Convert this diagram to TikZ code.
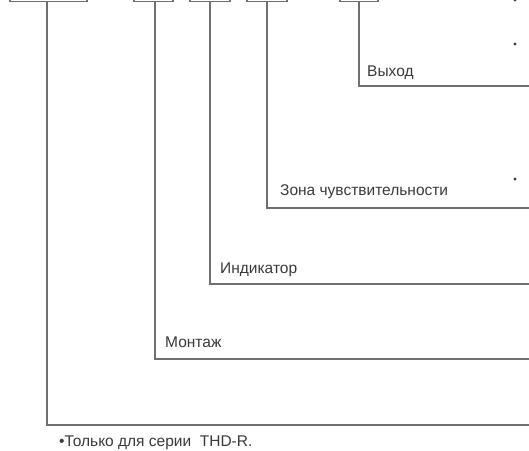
\documentclass[tikz,border=0pt]{standalone}
\usepackage{fontspec}
\setmainfont{Liberation Sans}
\definecolor{linegray}{HTML}{707070}
\definecolor{textgray}{HTML}{3A3A3A}

\begin{document}
\begin{tikzpicture}[x=1pt,y=-1pt,
	codebox/.style={draw=linegray,line width=1.5pt,minimum height=20pt,inner sep=0pt},
	leader/.style={draw=linegray,line width=1.5pt},
	caption/.style={text=textgray,font=\fontsize{15.5}{17}\selectfont,anchor=base west,inner sep=0pt},
	dotmark/.style={circle,fill=textgray,inner sep=0pt,minimum size=3.2pt}]
	\useasboundingbox (0,0) rectangle (529,450);
	\clip (0,0) rectangle (529,450);

	% The boxes of the code, cut off at the top
	\node[codebox,minimum width=77pt,anchor=south] (series) at (48.5,2) {};
	\node[codebox,minimum width=39pt,anchor=south] (mount) at (153.5,2) {};
	\node[codebox,minimum width=40pt,anchor=south] (indic) at (210,2) {};
	\node[codebox,minimum width=40pt,anchor=south] (zone) at (267,2) {};
	\node[codebox,minimum width=38pt,anchor=south] (output) at (359,2) {};

	% Right ends of the leaders
	\coordinate (seriesend) at (529,425);
	\coordinate (mountend) at (529,359);
	\coordinate (indicend) at (529,284);
	\coordinate (zoneend) at (529,208);
	\coordinate (outputend) at (529,86);

	% The leaders
	\draw[leader] (series.south -| 47,0) |- (seriesend);
	\draw[leader] (mount.south -| 155,0) |- (mountend);
	\draw[leader] (indic.south) |- (indicend);
	\draw[leader] (zone.south) |- (zoneend);
	\draw[leader] (output.south) |- (outputend);

	% Then add the labels
	\node[caption] (outputlabel) at (367,76) {Выход};
	\node[caption] (zonelabel) at (280,195) {Зона чувствительности};
	\node[caption] (indiclabel) at (220,273) {Индикатор};
	\node[caption] (mountlabel) at (165,347) {Монтаж};
	\node[caption] (note) at (59,446) {•Только для серии\ \ THD-R.};

	% Now the dots on the right
	\node[dotmark] (dota) at (515,0) {};
	\node[dotmark] (dotb) at (515,44) {};
	\node[dotmark] (dotc) at (515,179) {};
\end{tikzpicture}
\end{document}
